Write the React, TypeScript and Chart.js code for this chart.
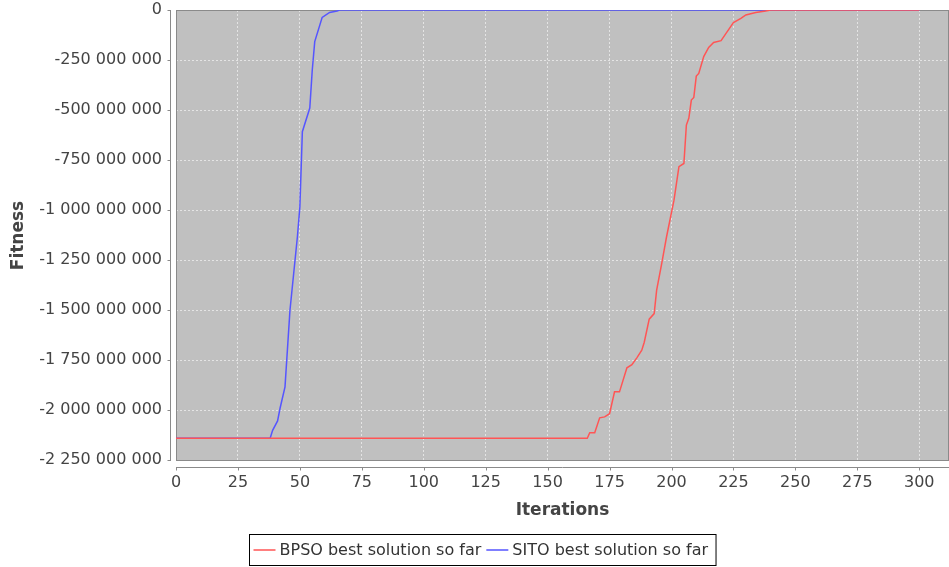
import React, { useEffect, useRef } from "react";
import { Chart, registerables } from "chart.js";

Chart.register(...registerables);

// ---- Data ----
const bpsoIterations = [0, 166, 167, 169, 171, 173, 175, 177, 179, 182, 184, 186, 188, 189, 191, 193, 194, 196, 198, 201, 203, 205, 206, 207, 208, 209, 210, 211, 213, 215, 217, 220, 222, 225, 228, 230, 234, 238, 240, 300];
const bpsoFitness = [-2140e6, -2140e6, -2112e6, -2112e6, -2038e6, -2033e6, -2017e6, -1908e6, -1908e6, -1788e6, -1772e6, -1738e6, -1700e6, -1660e6, -1545e6, -1517e6, -1400e6, -1270e6, -1133e6, -950e6, -783e6, -767e6, -575e6, -540e6, -450e6, -437e6, -330e6, -317e6, -233e6, -187e6, -162e6, -153e6, -117e6, -63e6, -42e6, -25e6, -13e6, -5e6, 0, 0];

const sitoIterations = [0, 38, 39, 41, 42, 44, 46, 49, 50, 51, 54, 55, 56, 59, 62, 65, 66, 300];
const sitoFitness = [-2140e6, -2140e6, -2100e6, -2053e6, -1990e6, -1883e6, -1500e6, -1133e6, -983e6, -608e6, -490e6, -300e6, -158e6, -37e6, -12e6, -5e6, 0, 0];

const seriesNames = ["BPSO best solution so far", "SITO best solution so far"];
const seriesColors = ["#ff5555", "#5555ff"];

const xTickValues = [0, 25, 50, 75, 100, 125, 150, 175, 200, 225, 250, 275, 300];
const yTickValues = [0, -250e6, -500e6, -750e6, -1000e6, -1250e6, -1500e6, -1750e6, -2000e6, -2250e6];
const xMin = 0;
const xMax = 312;
const yMin = -2253.5e6;
const yMax = 0;

const FONT = '"DejaVu Sans", sans-serif';

function formatThousands(v: number): string {
  const s = Math.round(Math.abs(v)).toString().replace(/\B(?=(\d{3})+(?!\d))/g, " ");
  return (Math.round(v) < 0 ? "-" : "") + s;
}

const decorPlugin = {
  id: "decor",
  beforeDraw(chart: any) {
    const { ctx, chartArea } = chart;
    ctx.save();
    ctx.fillStyle = "#ffffff";
    ctx.fillRect(0, 0, chart.width, chart.height);
    ctx.fillStyle = "#c0c0c0";
    ctx.fillRect(chartArea.left, chartArea.top, chartArea.right - chartArea.left, chartArea.bottom - chartArea.top);
    ctx.restore();
  },
  beforeDatasetsDraw(chart: any) {
    const { ctx, chartArea } = chart;
    ctx.save();
    ctx.strokeStyle = "#8a8a8a";
    ctx.lineWidth = 1;
    ctx.strokeRect(chartArea.left + 0.5, chartArea.top + 0.5, chartArea.right - chartArea.left - 1, chartArea.bottom - chartArea.top - 1);
    ctx.restore();
  },
  afterDraw(chart: any) {
    const { ctx, chartArea, scales } = chart;
    ctx.save();
    // axis lines
    ctx.strokeStyle = "#8a8a8a";
    ctx.lineWidth = 1;
    const axX = chartArea.left - 5.5;
    const axY = chartArea.bottom + 6.5;
    ctx.beginPath();
    ctx.moveTo(axX, chartArea.top);
    ctx.lineTo(axX, chartArea.bottom);
    ctx.moveTo(chartArea.left, axY);
    ctx.lineTo(chartArea.right, axY);
    scales.y.ticks.forEach((t: any) => {
      const p = Math.round(scales.y.getPixelForValue(t.value)) + 0.5;
      ctx.moveTo(axX - 3, p);
      ctx.lineTo(axX, p);
    });
    scales.x.ticks.forEach((t: any) => {
      const p = Math.round(scales.x.getPixelForValue(t.value)) + 0.5;
      ctx.moveTo(p, axY);
      ctx.lineTo(p, axY + 3);
    });
    ctx.stroke();

    // legend
    ctx.font = "16px " + FONT;
    ctx.textBaseline = "middle";
    ctx.textAlign = "left";
    const w0 = ctx.measureText(seriesNames[0]).width;
    const w1 = ctx.measureText(seriesNames[1]).width;
    const lineLen = 22;
    const gap = 4;
    const pad = 4;
    const itemGap = 5;
    const boxW = pad + lineLen + gap + w0 + itemGap + lineLen + gap + w1 + pad + 4;
    const boxX = 249;
    const boxY = 534.5;
    const boxH = 31;
    ctx.strokeStyle = "#000000";
    ctx.lineWidth = 1;
    ctx.strokeRect(boxX + 0.5, boxY, boxW, boxH);
    const cy = boxY + boxH / 2;
    let x = boxX + pad + 0.5;
    for (let i = 0; i < 2; i++) {
      ctx.strokeStyle = seriesColors[i];
      ctx.lineWidth = 1.5;
      ctx.beginPath();
      ctx.moveTo(x, cy);
      ctx.lineTo(x + lineLen, cy);
      ctx.stroke();
      ctx.fillStyle = "#333333";
      ctx.fillText(seriesNames[i], x + lineLen + gap, cy + 1);
      x += lineLen + gap + (i === 0 ? w0 : w1) + itemGap;
    }
    ctx.restore();
  },
};

export default function App() {
  const canvasRef = useRef<HTMLCanvasElement | null>(null);

  useEffect(() => {
    if (!canvasRef.current) return;
    const chart = new Chart(canvasRef.current, {
      type: "line",
      data: {
        datasets: [
          {
            label: seriesNames[0],
            data: bpsoIterations.map((it, i) => ({ x: it, y: bpsoFitness[i] })),
            borderColor: seriesColors[0],
            backgroundColor: seriesColors[0],
            borderWidth: 1.5,
            pointRadius: 0,
            tension: 0,
            fill: false,
          },
          {
            label: seriesNames[1],
            data: sitoIterations.map((it, i) => ({ x: it, y: sitoFitness[i] })),
            borderColor: seriesColors[1],
            backgroundColor: seriesColors[1],
            borderWidth: 1.5,
            pointRadius: 0,
            tension: 0,
            fill: false,
          },
        ],
      },
      options: {
        responsive: false,
        animation: false,
        layout: { padding: { top: 10, right: 0, bottom: 0, left: 0 } },
        plugins: {
          legend: { display: false },
          tooltip: { enabled: false },
        },
        scales: {
          x: {
            type: "linear",
            min: xMin,
            max: xMax,
            afterBuildTicks: (scale: any) => {
              scale.ticks = xTickValues.map((v) => ({ value: v }));
            },
            afterFit: (scale: any) => {
              scale.height = 106;
              scale.paddingLeft = 0;
              scale.paddingRight = 0;
            },
            ticks: {
              color: "#444444",
              font: { family: FONT, size: 16 },
              padding: 12,
              maxRotation: 0,
              autoSkip: false,
              callback: (v: any) => String(Math.round(Number(v))),
            },
            grid: {
              color: "#e4e4e4",
              lineWidth: 1,
              drawTicks: false,
            },
            border: { display: false, dash: [2, 2] },
            title: {
              display: true,
              text: "Iterations",
              color: "#444444",
              font: { family: FONT, size: 17, weight: "bold" },
              padding: { top: 0, bottom: 46 },
            },
          },
          y: {
            type: "linear",
            min: yMin,
            max: yMax,
            afterBuildTicks: (scale: any) => {
              scale.ticks = yTickValues.map((v) => ({ value: v }));
            },
            afterFit: (scale: any) => {
              scale.width = 176;
              scale.paddingTop = 0;
              scale.paddingBottom = 0;
            },
            ticks: {
              color: "#444444",
              font: { family: FONT, size: 16 },
              padding: 14,
              autoSkip: false,
              callback: (v: any) => formatThousands(Number(v)),
            },
            grid: {
              color: "#e4e4e4",
              lineWidth: 1,
              drawTicks: false,
            },
            border: { display: false, dash: [2, 2] },
            title: {
              display: true,
              text: "Fitness",
              color: "#444444",
              font: { family: FONT, size: 17, weight: "bold" },
              padding: { top: 8, bottom: 0 },
            },
          },
        },
      },
      plugins: [decorPlugin],
    });
    return () => chart.destroy();
  }, []);

  return (
    <div style={{ position: "absolute", left: 0, top: 0, width: 949, height: 567 }}>
      <canvas ref={canvasRef} width={949} height={567} style={{ display: "block" }} />
    </div>
  );
}
